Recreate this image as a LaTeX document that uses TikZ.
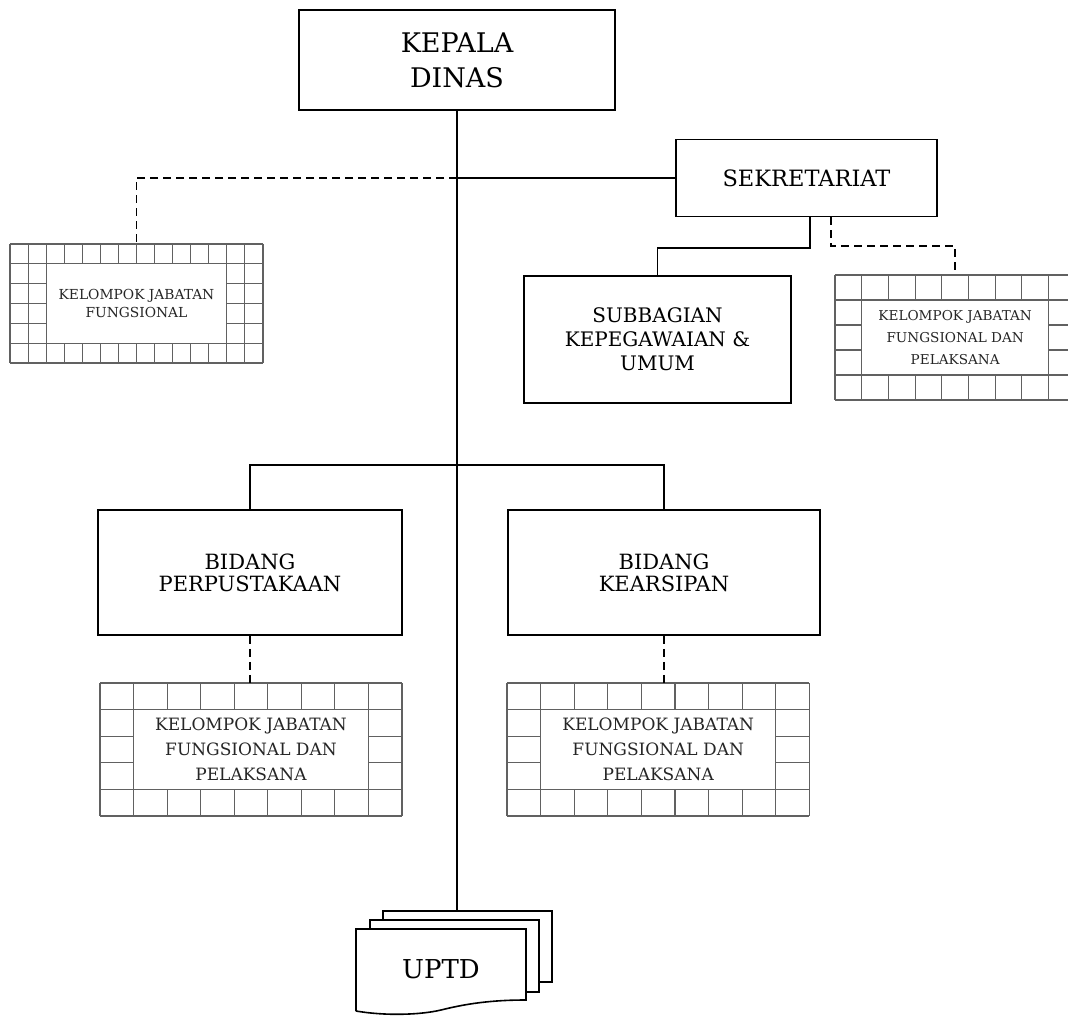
\documentclass[tikz,border=0pt]{standalone}
\usepackage{fontspec}
\setmainfont{DejaVu Serif}
\begin{document}
\begin{tikzpicture}[x=1pt,y=-1pt,
  box/.style={draw, line width=1.8pt, fill=white, align=center, inner sep=0pt},
  conn/.style={line width=1.8pt},
  dconn/.style={line width=1.8pt, dash pattern=on 8pt off 5pt},
  gridline/.style={draw=black!62, line width=1.1pt},
  innerbox/.style={draw=black!62, line width=1.1pt, fill=white, align=center, inner sep=0pt, text=black!85},
  sheet/.style={draw, line width=1.6pt, fill=white}]
\useasboundingbox (0,0) rectangle (1068,1016);
\fill[white] (0,0) rectangle (1068,1016);

% grid macro: name, x0, y0, ncols, colw, nrows, rowh
\newcommand{\kgrid}[7]{%
  \foreach \i in {0,...,#4} \draw[gridline] ({#2+\i*#5},#3) -- ({#2+\i*#5},{#3+#6*#7});
  \foreach \j in {0,...,#6} \draw[gridline] (#2,{#3+\j*#7}) -- ({#2+#4*#5},{#3+\j*#7});
  \node[inner sep=0pt, minimum width={#4*#5*1pt}, minimum height={#6*#7*1pt}] (#1) at ({#2+#4*#5/2},{#3+#6*#7/2}) {};
}

% main boxes
\node[box, minimum width=316pt, minimum height=100pt, font={\fontsize{27}{35}\selectfont}] (kd) at (457,60) {KEPALA\\DINAS};
\node[box, minimum width=261pt, minimum height=77pt, font={\fontsize{22.5}{27}\selectfont}] (sek) at (806.5,178) {SEKRETARIAT};
\node[box, minimum width=267pt, minimum height=127pt, font={\fontsize{20}{24}\selectfont}] (sub) at (657.5,339.5) {SUBBAGIAN\\KEPEGAWAIAN \&\\UMUM};
\node[box, minimum width=304pt, minimum height=125pt, font={\fontsize{21}{22}\selectfont}] (bp) at (250,572.5) {BIDANG\\PERPUSTAKAAN};
\node[box, minimum width=312pt, minimum height=125pt, font={\fontsize{21}{22}\selectfont}] (bk) at (664,572.5) {BIDANG\\KEARSIPAN};

% grids
\kgrid{g1}{10}{244}{14}{18.07}{6}{19.83}
\node[innerbox, minimum width={10*18.07pt}, minimum height={4*19.83pt}, font={\fontsize{13.8}{18}\selectfont}] (g1t) at (g1.center) {KELOMPOK JABATAN\\FUNGSIONAL};
\begin{scope}
\clip (0,0) rectangle (1068,1016);
\kgrid{g2}{835}{275}{9}{26.7}{5}{25}
\node[innerbox, minimum width={7*26.7pt}, minimum height={3*25pt}, font={\fontsize{13.6}{22}\selectfont}] (g2t) at (g2.center) {KELOMPOK JABATAN\\FUNGSIONAL DAN\\PELAKSANA};
\end{scope}
\kgrid{g3}{100}{683}{9}{33.55}{5}{26.6}
\node[innerbox, minimum width={7*33.55pt}, minimum height={3*26.6pt}, font={\fontsize{17}{25}\selectfont}] (g3t) at (g3.center) {KELOMPOK JABATAN\\FUNGSIONAL DAN\\PELAKSANA};
\kgrid{g4}{507}{683}{9}{33.6}{5}{26.6}
\node[innerbox, minimum width={7*33.6pt}, minimum height={3*26.6pt}, font={\fontsize{17}{25}\selectfont}] (g4t) at (g4.center) {KELOMPOK JABATAN\\FUNGSIONAL DAN\\PELAKSANA};

% UPTD stacked documents
\draw[sheet] (383,911) rectangle (552,982);
\draw[sheet] (370,920) rectangle (539,992);
\draw[sheet] (356,1011) -- (356,929) -- (526,929) -- (526,1000)
  .. controls (490,1000) and (465,1004) .. (441,1010)
  .. controls (420,1015) and (385,1016) .. (356,1011);
\node[font={\fontsize{26}{30}\selectfont}, inner sep=0pt] (uptd) at (441,969) {UPTD};
\coordinate (uptdtop) at (457,911);

% connectors
\draw[conn] (kd.south) -- (uptdtop);
\draw[conn] (kd.south |- sek.west) -- (sek.west);
\draw[dconn] (kd.south |- sek.west) -| (g1.north);
\draw[conn] ([xshift=3.5pt]sek.south) -- ++(0,31) -| (sub.north);
\draw[dconn] ([xshift=24.5pt]sek.south) -- ++(0,29) -| (g2.north);
\draw[conn] (bp.north) -- ++(0,-44) -| (bk.north);
\draw[dconn] (bp.south) -- (bp.south |- g3.north);
\draw[dconn] (bk.south) -- (bk.south |- g4.north);
\end{tikzpicture}
\end{document}
